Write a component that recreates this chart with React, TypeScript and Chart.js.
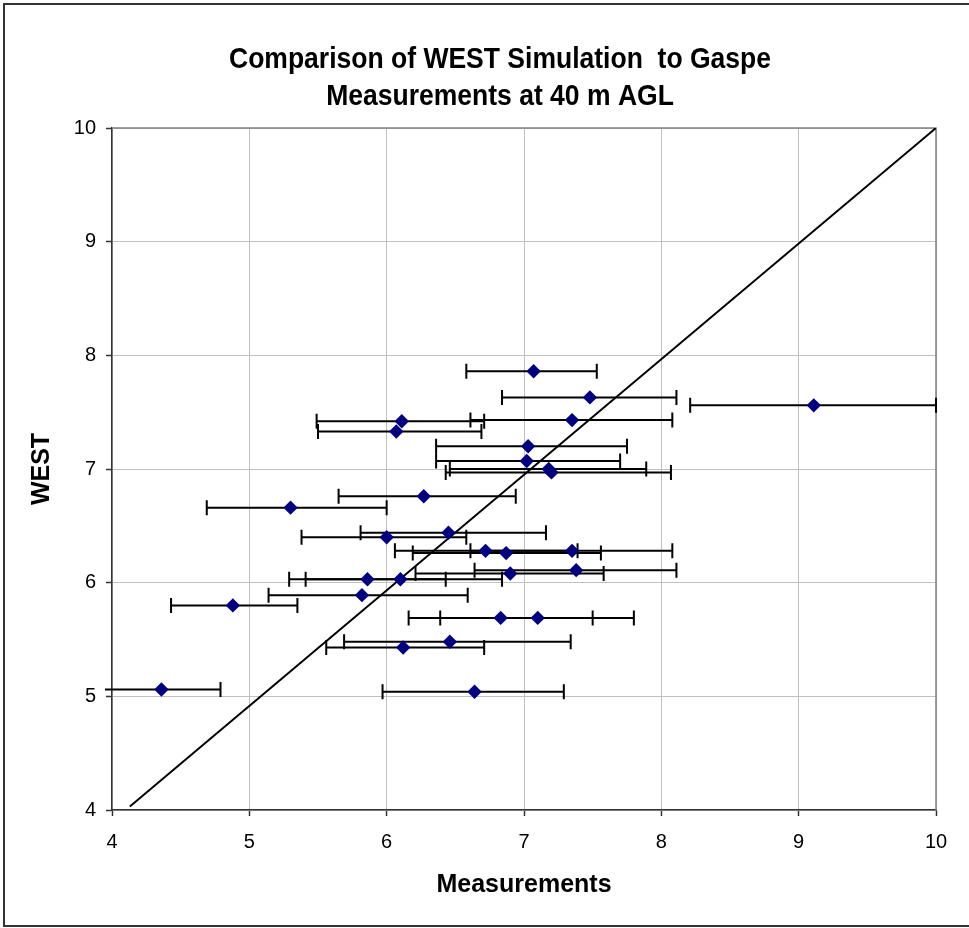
import React, { useEffect, useRef } from 'react';
import { Chart, registerables } from 'chart.js';

Chart.register(...registerables);

const titleLines = ['Comparison of WEST Simulation  to Gaspe', 'Measurements at 40 m AGL'];
const xAxisTitle = 'Measurements';
const yAxisTitle = 'WEST';
const axisMin = 4;
const axisMax = 10;
const axisStep = 1;

// Measurements (x) and WEST simulation (y)
const measurements = [7.07, 7.48, 9.11, 6.11, 7.35, 6.07, 7.03, 7.02, 7.18, 7.2, 6.27, 5.3, 6.45, 6.0, 6.72, 6.87, 7.35, 5.86, 6.1, 6.9, 7.38, 5.82, 4.88, 6.83, 7.1, 6.46, 6.12, 4.36, 6.64];
const west = [7.86, 7.63, 7.56, 7.42, 7.43, 7.33, 7.2, 7.07, 7.0, 6.97, 6.76, 6.66, 6.44, 6.4, 6.28, 6.26, 6.28, 6.03, 6.03, 6.08, 6.11, 5.89, 5.8, 5.69, 5.69, 5.48, 5.43, 5.06, 5.04];
// horizontal error bar ends
const errLow = [6.58, 6.84, 8.21, 5.49, 6.61, 5.5, 6.36, 6.36, 6.46, 6.43, 5.65, 4.69, 5.81, 5.38, 6.06, 6.19, 6.61, 5.29, 5.41, 6.21, 6.64, 5.14, 4.43, 6.16, 6.39, 5.69, 5.56, 3.94, 5.97];
const errHigh = [7.53, 8.11, 10.0, 6.71, 8.08, 6.69, 7.75, 7.7, 7.89, 8.07, 6.94, 6.0, 7.16, 6.58, 7.39, 7.56, 8.08, 6.43, 6.84, 7.58, 8.11, 6.59, 5.35, 7.5, 7.8, 7.34, 6.71, 4.79, 7.29];
// reference line
const refLineX = [4.13, 10];
const refLineY = [4.03, 10];

const FONT = '"Liberation Sans", Arial, sans-serif';

const errorBarPlugin = {
  id: 'errorBars',
  beforeDatasetsDraw(chart: any) {
    const { ctx, chartArea, scales } = chart;
    const x = scales.x;
    const y = scales.y;
    ctx.save();
    // plot border (top/right) in gray
    ctx.strokeStyle = '#808080';
    ctx.lineWidth = 1.5;
    ctx.beginPath();
    ctx.moveTo(chartArea.left, chartArea.top);
    ctx.lineTo(chartArea.right, chartArea.top);
    ctx.lineTo(chartArea.right, chartArea.bottom);
    ctx.stroke();

    ctx.beginPath();
    ctx.rect(chartArea.left - 7, chartArea.top - 10, chartArea.right - chartArea.left + 17, chartArea.bottom - chartArea.top + 20);
    ctx.clip();
    ctx.strokeStyle = '#000';
    ctx.lineWidth = 2;
    for (let i = 0; i < west.length; i++) {
      const py = y.getPixelForValue(west[i]);
      const l = x.getPixelForValue(errLow[i]);
      const r = x.getPixelForValue(errHigh[i]);
      ctx.beginPath();
      ctx.moveTo(l, py);
      ctx.lineTo(r, py);
      ctx.moveTo(l, py - 7.5);
      ctx.lineTo(l, py + 7.5);
      ctx.moveTo(r, py - 7.5);
      ctx.lineTo(r, py + 7.5);
      ctx.stroke();
    }
    ctx.restore();
  },
};

const titlePlugin = {
  id: 'customTitle',
  afterDraw(chart: any) {
    const { ctx } = chart;
    ctx.save();
    ctx.font = 'bold 30px ' + FONT;
    const w = ctx.measureText(titleLines[0]).width;
    const sx = 542 / w;
    ctx.textAlign = 'center';
    ctx.textBaseline = 'middle';
    ctx.fillStyle = '#000';
    titleLines.forEach((t, i) => {
      ctx.save();
      ctx.translate(500, 60 + i * 37);
      ctx.scale(sx, 1);
      ctx.fillText(t, 0, 0);
      ctx.restore();
    });
    ctx.restore();
  },
};

export default function App() {
  const ref = useRef<HTMLCanvasElement | null>(null);
  useEffect(() => {
    if (!ref.current) return;
    const points = measurements.map((v, i) => ({ x: v, y: west[i] }));
    const line = refLineX.map((v, i) => ({ x: v, y: refLineY[i] }));
    const chart = new Chart(ref.current, {
      type: 'scatter',
      data: {
        datasets: [
          {
            label: 'WEST',
            data: points,
            pointStyle: 'rectRot',
            pointRadius: 7.2,
            pointHoverRadius: 7.2,
            backgroundColor: '#000080',
            borderColor: '#000080',
            borderWidth: 0,
            order: 0,
          },
          {
            label: '1:1',
            data: line,
            showLine: true,
            borderColor: '#000',
            borderWidth: 2,
            pointRadius: 0,
            order: 1,
          } as any,
        ],
      },
      options: {
        responsive: false,
        maintainAspectRatio: false,
        animation: false,
        layout: { padding: { top: 128, right: 33, bottom: 0, left: 0 } },
        plugins: {
          legend: { display: false },
          title: { display: false },
          tooltip: { enabled: false },
        },
        scales: {
          x: {
            type: 'linear',
            min: axisMin,
            max: axisMax,
            afterFit: (s: any) => { s.height = 118; },
            ticks: { stepSize: axisStep, color: '#000', font: { family: FONT, size: 20 }, padding: 14 },
            grid: { color: '#c0c0c0', lineWidth: 1, tickLength: 6, tickColor: '#333', tickWidth: 1.5 },
            border: { color: '#333', width: 1.5 },
            title: { display: true, text: xAxisTitle, color: '#000', font: { family: FONT, size: 25, weight: 'bold' }, padding: { top: 0, bottom: 28 } },
          },
          y: {
            type: 'linear',
            min: axisMin,
            max: axisMax,
            afterFit: (s: any) => { s.width = 112; },
            ticks: { stepSize: axisStep, color: '#000', font: { family: FONT, size: 20 }, padding: 10 },
            grid: { color: '#c0c0c0', lineWidth: 1, tickLength: 6, tickColor: '#333', tickWidth: 1.5 },
            border: { color: '#333', width: 1.5 },
            title: { display: true, text: yAxisTitle, color: '#000', font: { family: FONT, size: 25, weight: 'bold' }, padding: { top: 27.5, bottom: 0 } },
          },
        },
      },
      plugins: [errorBarPlugin, titlePlugin],
    });
    return () => chart.destroy();
  }, []);

  return (
    <div style={{ position: 'absolute', left: 0, top: 0, width: 969, height: 928, overflow: 'hidden', background: '#fff' }}>
      <canvas ref={ref} width={969} height={928} style={{ display: 'block', width: 969, height: 928 }} />
      <div style={{ position: 'absolute', left: 3, top: 3, width: 1000, height: 924, border: '2px solid #333', boxSizing: 'border-box', pointerEvents: 'none' }} />
    </div>
  );
}
